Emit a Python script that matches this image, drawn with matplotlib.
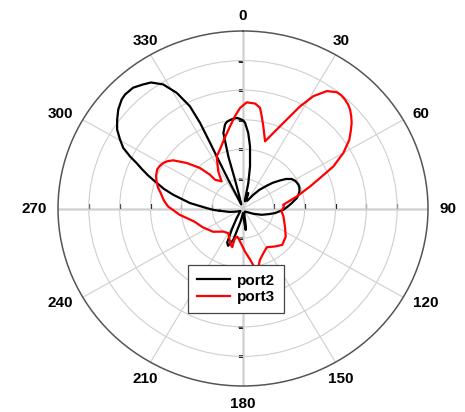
import numpy as np
import matplotlib
matplotlib.use("Agg")
import matplotlib.pyplot as plt

plt.rcParams['font.family'] = ['Liberation Sans', 'DejaVu Sans']

# Radiation pattern samples: angle (deg, clockwise from north) and radius (grid-ring units)
port2_angle = [264, 267, 270.7, 276.1, 281.6, 284.5, 287.8, 290, 292.2, 294,
               295.7, 297.8, 300.3, 303.2, 306.4, 309.6, 313.1, 315.2, 318.9, 322.3,
               325, 328.3, 331.2, 333.5, 334.3, 334.3, 334.1, 333.9, 334.5, 338,
               344, 345, 344.9, 346, 348.4, 350, 352, 354, 356.2, 358.2,
               0, 1.3, 3.8, 6.2, 9.1, 11.3, 12.4, 15, 18, 20,
               28, 35.8, 40, 45, 48, 51.7, 54.5, 57.8, 61.5, 65.9,
               69, 72.5, 75.5, 78.6, 83.4, 87.5, 91.9, 98.5, 103, 109.4,
               118, 130, 150, 168, 171, 173, 175, 180, 190, 196.6,
               201, 204, 207, 212, 225, 245, 255, 264]
port2_r = [0.75, 0.95, 1.18, 1.73, 2.31, 2.65, 3.0, 3.28, 3.55, 3.78,
           4.07, 4.39, 4.62, 4.88, 5.07, 5.25, 5.39, 5.43, 5.42, 5.30,
           5.20, 4.93, 4.46, 3.86, 3.21, 2.46, 1.71, 1.08, 0.5, 0.15,
           0.4, 1.0, 1.83, 2.63, 2.90, 2.98, 3.02, 3.05, 3.07, 3.03,
           2.98, 2.90, 2.56, 2.11, 1.44, 0.88, 0.30, 0.25, 0.55, 0.3,
           0.3, 0.57, 0.82, 1.09, 1.30, 1.53, 1.72, 1.87, 1.94, 1.97,
           1.96, 1.92, 1.86, 1.78, 1.59, 1.45, 1.31, 1.05, 0.85, 0.64,
           0.38, 0.2, 0.12, 0.2, 0.55, 0.73, 0.45, 0.15, 0.45, 1.11,
           1.35, 1.26, 0.81, 0.4, 0.12, 0.25, 0.45, 0.75]

port3_angle = [345.9, 351.4, 355.2, 358.4, 1.9, 6.3, 9.2, 11, 13.3, 17.5,
               21.1, 25.3, 28.2, 31, 34.4, 37.7, 39.8, 41.9, 44, 46.1,
               48.3, 50.6, 53, 56, 60, 64.1, 67, 71.1, 76.9, 84.5,
               87, 94, 101.7, 114.1, 124.4, 134, 141.1, 149.5, 156.4, 162.4,
               168, 172.3, 177.4, 182, 186.5, 191, 194.5, 195, 194.9, 198,
               203.9, 209.8, 219.4, 231, 244, 254.4, 264, 271.6, 276, 281.1,
               284.5, 288.1, 291.5, 295.3, 298, 300.7, 303, 305.7, 310.1, 314.4,
               316.8, 317, 322.9, 327.4, 334.2, 339.4, 345.9]
port3_r = [2.45, 2.81, 3.13, 3.40, 3.59, 3.57, 3.45, 3.18, 2.86, 2.38,
           2.74, 3.33, 3.92, 4.43, 4.81, 4.97, 4.98, 4.95, 4.90, 4.82,
           4.70, 4.56, 4.38, 4.16, 3.76, 3.26, 2.78, 2.30, 1.79, 1.31,
           1.33, 1.25, 1.34, 1.49, 1.68, 1.77, 1.65, 1.52, 1.65, 1.82,
           2.2, 1.75, 1.46, 1.23, 1.07, 0.97, 1.04, 1.21, 1.35, 1.29,
           1.10, 0.96, 1.01, 1.25, 1.45, 1.64, 2.06, 2.43, 2.58, 2.72,
           2.85, 2.95, 3.03, 3.08, 3.06, 3.01, 2.93, 2.79, 2.39, 1.96,
           1.57, 1.33, 1.15, 1.49, 1.96, 2.13, 2.45]

angle_ticks = list(range(0, 360, 30))
angle_labels = [str(a) for a in angle_ticks]
ring_values = [1, 2, 3, 4, 5]
r_max = 6

fig = plt.figure(figsize=(4.65, 4.12), dpi=100)
W, H = 465, 412
ax = fig.add_axes([58 / W, 26 / H, 370 / W, 355 / H], projection='polar')
ax.set_aspect('auto')
ax.set_theta_zero_location('N')
ax.set_theta_direction(-1)
ax.set_rlim(0, r_max)

grid_col = '#cfcfcf'
ax.set_xticks(np.deg2rad(angle_ticks))
ax.set_xticklabels([])
ax.set_yticks(ring_values)
ax.set_yticklabels([])
ax.grid(True, color=grid_col, linewidth=0.8)
ax.tick_params(axis='x', direction='out', length=5.5, width=1.0, color='#333333', pad=0)
ax.spines['polar'].set_color('#555555')
ax.spines['polar'].set_linewidth(1.1)

# Main axes through the centre with small ring ticks
for a, mk in [(0, [(0, 0), (-1, 0)]), (90, [(0, 0), (0, 1)]),
              (180, [(0, 0), (-1, 0)]), (270, [(0, 0), (0, 1)])]:
    t = np.deg2rad(a)
    ax.plot([t, t], [0, r_max], color='#222222', lw=0.9, zorder=1.5)
    ax.plot([t] * len(ring_values), ring_values, linestyle='none',
            marker=mk, markersize=7, markeredgewidth=0.9, color='#222222', zorder=1.5)

th2 = np.unwrap(np.deg2rad(port2_angle))
th3 = np.unwrap(np.deg2rad(port3_angle))
ax.plot(th2, port2_r, color='black', lw=1.6, label='port2', zorder=3)
ax.plot(th3, port3_r, color='#ff0000', lw=1.6, label='port3', zorder=3)

# Angle labels around the rim
for a, lab in zip(angle_ticks, angle_labels):
    s, c = np.sin(np.deg2rad(a)), np.cos(np.deg2rad(a))
    ha = 'center' if abs(s) < 0.6 else ('left' if s > 0 else 'right')
    va = 'center' if abs(c) < 0.6 else ('baseline' if c > 0 else 'top')
    d = 11
    ax.annotate(lab, xy=(np.deg2rad(a), r_max), xycoords='data',
                xytext=(d * s, d * c), textcoords='offset pixels',
                ha=ha, va=va, fontsize=11, fontweight='bold', annotation_clip=False)

leg = ax.legend(loc='upper left', bbox_to_anchor=(188.3 / W, 1 - 264.5 / H),
                bbox_transform=fig.transFigure, borderaxespad=0,
                prop={'weight': 'bold', 'size': 11}, fancybox=False,
                framealpha=1, edgecolor='#444444', handlelength=2.1,
                handletextpad=0.5, borderpad=0.6, labelspacing=0.15)
leg.get_frame().set_linewidth(0.9)
leg.set_zorder(10)

fig.savefig('out.png', dpi=100)
